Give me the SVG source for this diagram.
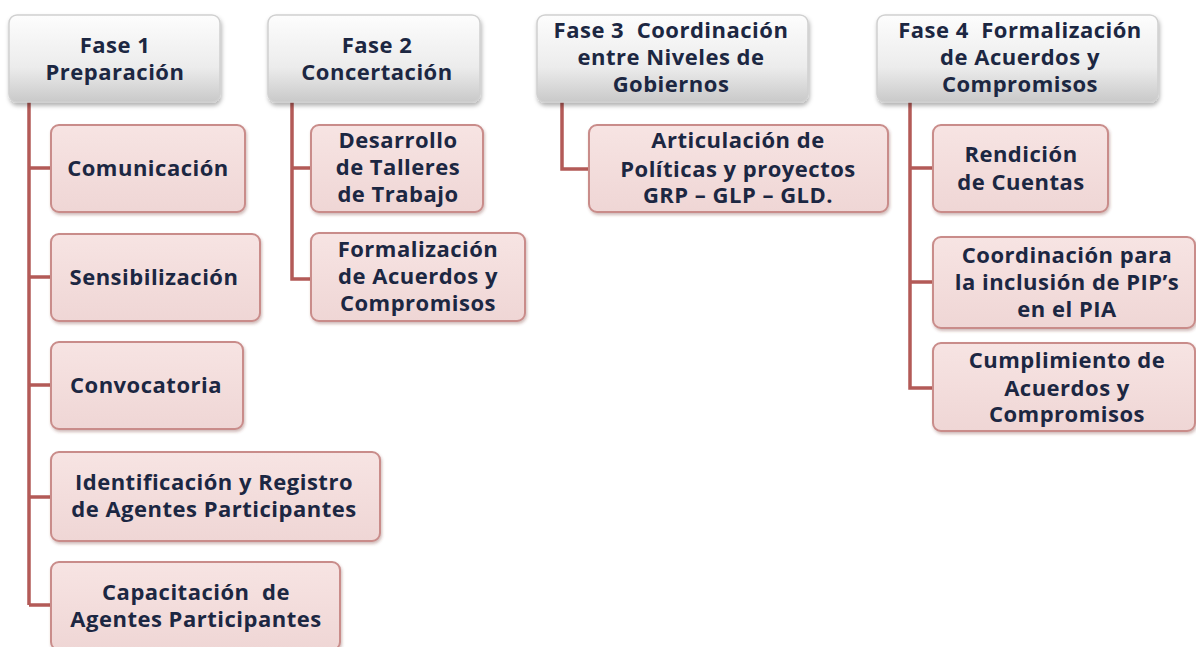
<svg xmlns="http://www.w3.org/2000/svg" width="1196" height="647" viewBox="0 0 1196 647">
<defs>
<linearGradient id="gGray" x1="0" y1="0" x2="0" y2="1">
<stop offset="0" stop-color="#fdfdfd"/>
<stop offset="0.6" stop-color="#ececec"/>
<stop offset="1" stop-color="#c9c9c9"/>
</linearGradient>
<linearGradient id="gPink" x1="0" y1="0" x2="0" y2="1">
<stop offset="0" stop-color="#f7e4e3"/>
<stop offset="1" stop-color="#efd6d5"/>
</linearGradient>
<filter id="sh" x="-10%" y="-10%" width="125%" height="130%">
<feDropShadow dx="1" dy="3" stdDeviation="2" flood-color="#000" flood-opacity="0.3"/>
</filter>
<filter id="sh2" x="-10%" y="-10%" width="125%" height="130%">
<feDropShadow dx="1" dy="2" stdDeviation="1.5" flood-color="#7a3a38" flood-opacity="0.35"/>
</filter>
</defs>
<style>
.p{fill:url(#gGray);stroke:#d0d0d0;stroke-width:1.5;filter:url(#sh)}
.c{fill:url(#gPink);stroke:#c98c8a;stroke-width:2;filter:url(#sh2)}
.t{font-family:"Open Sans","Liberation Sans",sans-serif;font-weight:bold;font-size:22px;letter-spacing:0.5px;fill:#1c2742;text-anchor:middle;white-space:pre}
.k{fill:none;stroke:#b35a57;stroke-width:3.5}
</style>
<rect width="1196" height="647" fill="#ffffff"/>
<g id="connectors">
<path class="k" d="M29 102 V605 M29 168 H52 M29 277 H52 M29 385 H52 M29 497 H52 M29 605 H52"/>
<path class="k" d="M292 102 V279 H312 M292 168 H312"/>
<path class="k" d="M562 102 V169 H590"/>
<path class="k" d="M910 102 V388 H934 M910 168 H934 M910 282 H934"/>
</g>
<g id="fase1">
<rect class="p" x="9" y="15" width="211" height="87" rx="8"/>
<text class="t" x="115" y="53">Fase 1</text>
<text class="t" x="115" y="80">Preparación</text>
</g>
<g id="comunicacion">
<rect class="c" x="51" y="125" width="194" height="87" rx="8"/>
<text class="t" x="148" y="176">Comunicación</text>
</g>
<g id="sensibilizacion">
<rect class="c" x="51" y="234" width="209" height="87" rx="8"/>
<text class="t" x="154" y="285">Sensibilización</text>
</g>
<g id="convocatoria">
<rect class="c" x="51" y="342" width="192" height="87" rx="8"/>
<text class="t" x="146" y="393">Convocatoria</text>
</g>
<g id="identificacion">
<rect class="c" x="51" y="452" width="329" height="89" rx="8"/>
<text class="t" x="214" y="490">Identificación y Registro</text>
<text class="t" x="214" y="517">de Agentes Participantes</text>
</g>
<g id="capacitacion">
<rect class="c" x="51" y="562" width="289" height="88" rx="8"/>
<text class="t" x="196" y="600">Capacitación  de</text>
<text class="t" x="196" y="627">Agentes Participantes</text>
</g>
<g id="fase2">
<rect class="p" x="268" y="15" width="212" height="87" rx="8"/>
<text class="t" x="377" y="53">Fase 2</text>
<text class="t" x="377" y="80">Concertación</text>
</g>
<g id="desarrollo">
<rect class="c" x="311" y="125" width="172" height="87" rx="8"/>
<text class="t" x="398" y="148">Desarrollo</text>
<text class="t" x="398" y="175">de Talleres</text>
<text class="t" x="398" y="202">de Trabajo</text>
</g>
<g id="formalizacion2">
<rect class="c" x="311" y="233" width="214" height="88" rx="8"/>
<text class="t" x="418" y="257">Formalización</text>
<text class="t" x="418" y="284">de Acuerdos y</text>
<text class="t" x="418" y="311">Compromisos</text>
</g>
<g id="fase3">
<rect class="p" x="537" y="15" width="271" height="87" rx="8"/>
<text class="t" x="671" y="38">Fase 3  Coordinación</text>
<text class="t" x="671" y="65">entre Niveles de</text>
<text class="t" x="671" y="92">Gobiernos</text>
</g>
<g id="articulacion">
<rect class="c" x="589" y="125" width="299" height="87" rx="8"/>
<text class="t" x="738" y="148">Articulación de</text>
<text class="t" x="738" y="177">Políticas y proyectos</text>
<text class="t" x="738" y="203">GRP – GLP – GLD.</text>
</g>
<g id="fase4">
<rect class="p" x="877" y="15" width="281" height="87" rx="8"/>
<text class="t" x="1020" y="38">Fase 4  Formalización</text>
<text class="t" x="1020" y="65">de Acuerdos y</text>
<text class="t" x="1020" y="92">Compromisos</text>
</g>
<g id="rendicion">
<rect class="c" x="933" y="125" width="175" height="87" rx="8"/>
<text class="t" x="1021" y="162">Rendición</text>
<text class="t" x="1021" y="190">de Cuentas</text>
</g>
<g id="coordinacion">
<rect class="c" x="933" y="237" width="262" height="91" rx="8"/>
<text class="t" x="1067" y="263">Coordinación para</text>
<text class="t" x="1067" y="290">la inclusión de PIP’s</text>
<text class="t" x="1067" y="317">en el PIA</text>
</g>
<g id="cumplimiento">
<rect class="c" x="933" y="343" width="262" height="88" rx="8"/>
<text class="t" x="1067" y="368">Cumplimiento de</text>
<text class="t" x="1067" y="396">Acuerdos y</text>
<text class="t" x="1067" y="422">Compromisos</text>
</g>
</svg>
